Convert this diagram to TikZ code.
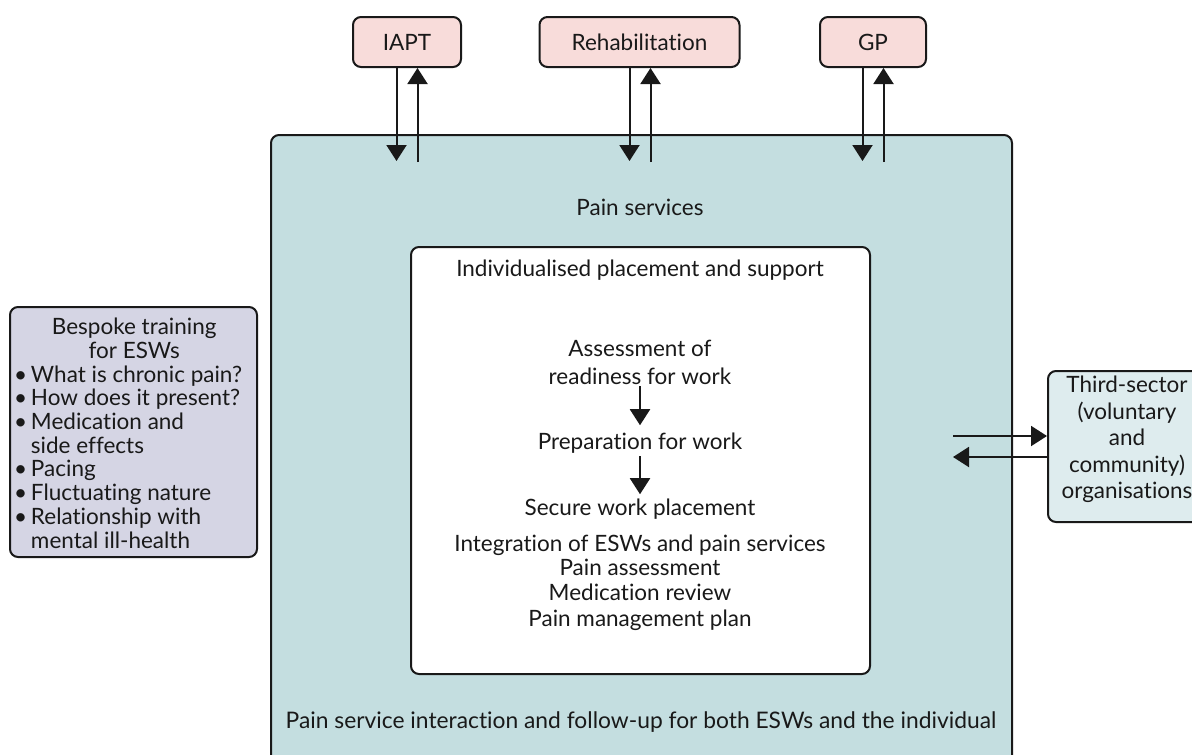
\documentclass[tikz,border=0pt]{standalone}
\usepackage{fontspec}
\setmainfont{Lato}[Ligatures=NoCommon]
\usetikzlibrary{arrows.meta}
\definecolor{pinkfill}{RGB}{248,220,218}
\definecolor{tealfill}{RGB}{196,222,224}
\definecolor{lavfill}{RGB}{213,213,228}
\definecolor{lightteal}{RGB}{222,236,238}
\definecolor{ink}{RGB}{25,25,25}
\tikzset{
  every node/.style={font=\fontsize{22.5}{26}\selectfont, text=ink},
  boxstyle/.style={draw=ink, line width=2pt, rounded corners=8pt, inner sep=0pt},
  arr/.style={draw=ink, line width=2pt, -{Triangle[length=16pt,width=20pt]}},
  txt/.style={anchor=base, inner sep=0pt},
}
\begin{document}
\begin{tikzpicture}[x=1pt,y=-1pt]
\useasboundingbox (0,0) rectangle (1192,755);
\clip (0,0) rectangle (1192,755);
% big pain services box
\node[boxstyle, fill=tealfill, anchor=north west, minimum width=741pt, minimum height=700pt] (pain) at (270,134) {};
\node[txt] (paintitle) at (640,215) {Pain services};
% inner white box
\node[boxstyle, fill=white, anchor=north west, minimum width=459pt, minimum height=427pt] (inner) at (410,246) {};
\node[txt] (indiv) at (640,276) {Individualised placement and support};
\node[txt] (assess) at (640,356) {Assessment of};
\node[txt] (ready) at (640,384) {readiness for work};
\node[txt] (prep) at (640,449) {Preparation for work};
\node[txt] (secure) at (640,515) {Secure work placement};
\node[txt] (integ) at (640,551) {Integration of ESWs and pain services};
\node[txt] (passess) at (640,575) {Pain assessment};
\node[txt] (medrev) at (640,600) {Medication review};
\node[txt] (pmp) at (640,626) {Pain management plan};
\draw[arr, shorten <=2pt, shorten >=7pt] (ready.south) -- (prep.north);
\draw[arr, shorten <=3pt, shorten >=4pt] (prep.south) -- (secure.north);
\node[txt] (follow) at (641,728) {\fontsize{22.8}{26}\selectfont Pain service interaction and follow-up for both ESWs and the individual};
% top boxes
\node[boxstyle, fill=pinkfill, minimum width=108pt, minimum height=50pt] (iapt) at (407,42) {IAPT};
\node[boxstyle, fill=pinkfill, minimum width=200pt, minimum height=50pt] (rehab) at (639.5,42) {Rehabilitation};
\node[boxstyle, fill=pinkfill, minimum width=106pt, minimum height=50pt] (gp) at (873,42) {GP};
\coordinate (iapt-d) at (396.5,161);
\coordinate (iapt-u) at (417.5,162);
\coordinate (rehab-d) at (629.5,161);
\coordinate (rehab-u) at (650.5,162);
\coordinate (gp-d) at (862.5,161);
\coordinate (gp-u) at (883.5,162);
\draw[arr] (iapt.south -| iapt-d) -- (iapt-d);
\draw[arr] (iapt-u) -- (iapt.south -| iapt-u);
\draw[arr] (rehab.south -| rehab-d) -- (rehab-d);
\draw[arr] (rehab-u) -- (rehab.south -| rehab-u);
\draw[arr] (gp.south -| gp-d) -- (gp-d);
\draw[arr] (gp-u) -- (gp.south -| gp-u);
% left training box
\node[boxstyle, fill=lavfill, anchor=north west, minimum width=247pt, minimum height=250pt] (train) at (9,306) {};
\node[anchor=north west, inner sep=0pt] (traintext) at (14,318) {%
  \begin{minipage}[t]{240pt}\fontsize{22.5}{23.7}\selectfont
  \centering Bespoke training\\ for ESWs\par
  \raggedright
  •\,What is chronic pain?\\
  •\,How does it present?\\
  •\,Medication and\\
  \phantom{•\,}side effects\\
  •\,Pacing\\
  •\,Fluctuating nature\\
  •\,Relationship with\\
  \phantom{•\,}mental ill-health
  \end{minipage}};
% right third sector box
\node[boxstyle, fill=lightteal, anchor=north west, minimum width=170pt, minimum height=151pt] (third) at (1047,370) {};
\node[anchor=north, inner sep=0pt, align=center, font=\fontsize{22.5}{26.5}\selectfont] (thirdtext) at (1127,376) {Third-sector\\(voluntary\\and\\community)\\organisations};
\coordinate (third-out) at (953,436);
\coordinate (third-in) at (953,457);
\draw[arr] (third-out) -- (third.west |- third-out);
\draw[arr] (third.west |- third-in) -- (third-in);
\end{tikzpicture}
\end{document}
